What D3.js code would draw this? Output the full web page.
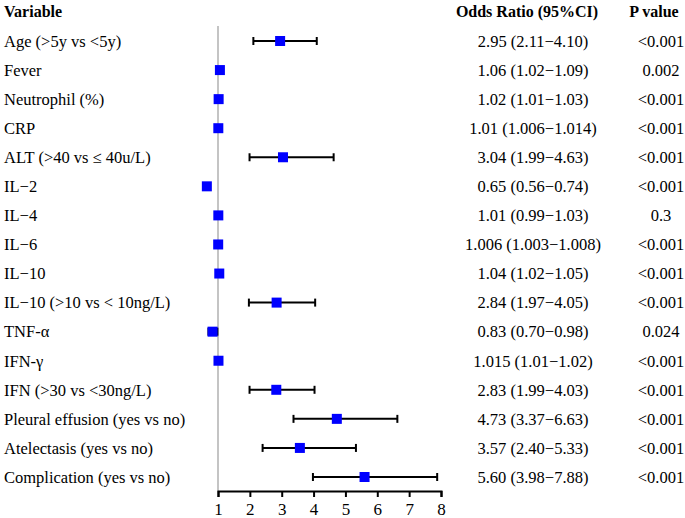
<!DOCTYPE html>
<meta charset="utf-8">
<style>
body { margin: 0; background: #fff; }
text { font-family: "Liberation Serif", "Times New Roman", serif; font-size: 16.5px; fill: #000; }
.head { font-weight: bold; font-size: 16px; }
</style>
<svg width="685" height="518"></svg>
<script src="https://d3js.org/d3.v7.min.js"></script>
<script>

var variables = ["Age (>5y vs <5y)", "Fever", "Neutrophil (%)", "CRP", "ALT (>40 vs \u2264 40u/L)",
  "IL\u22122", "IL\u22124", "IL\u22126", "IL\u221210", "IL\u221210 (>10 vs < 10ng/L)", "TNF-\u03b1",
  "IFN-\u03b3", "IFN (>30 vs <30ng/L)", "Pleural effusion (yes vs no)", "Atelectasis (yes vs no)",
  "Complication (yes vs no)"];
var oddsRatio = [2.95, 1.06, 1.02, 1.01, 3.04, 0.65, 1.01, 1.006, 1.04, 2.84, 0.83, 1.015, 2.83, 4.73, 3.57, 5.60];
var lower = [2.11, 1.02, 1.01, 1.006, 1.99, 0.56, 0.99, 1.003, 1.02, 1.97, 0.70, 1.01, 1.99, 3.37, 2.40, 3.98];
var upper = [4.10, 1.09, 1.03, 1.014, 4.63, 0.74, 1.03, 1.008, 1.05, 4.05, 0.98, 1.02, 4.03, 6.63, 5.33, 7.88];
var orText = ["2.95 (2.11\u22124.10)", "1.06 (1.02\u22121.09)", "1.02 (1.01\u22121.03)", "1.01 (1.006\u22121.014)",
  "3.04 (1.99\u22124.63)", "0.65 (0.56\u22120.74)", "1.01 (0.99\u22121.03)", "1.006 (1.003\u22121.008)",
  "1.04 (1.02\u22121.05)", "2.84 (1.97\u22124.05)", "0.83 (0.70\u22120.98)", "1.015 (1.01\u22121.02)",
  "2.83 (1.99\u22124.03)", "4.73 (3.37\u22126.63)", "3.57 (2.40\u22125.33)", "5.60 (3.98\u22127.88)"];
var pValues = ["<0.001", "0.002", "<0.001", "<0.001", "<0.001", "<0.001", "0.3", "<0.001",
  "<0.001", "<0.001", "0.024", "<0.001", "<0.001", "<0.001", "<0.001", "<0.001"];
var xTicks = [1, 2, 3, 4, 5, 6, 7, 8];

var rows = variables.map(function(v, i) {
  return { name: v, or: oddsRatio[i], lo: lower[i], hi: upper[i], txt: orText[i], p: pValues[i] };
});

var svg = d3.select("svg");

var x = d3.scaleLinear().domain([1, 8]).range([218, 441]);
var y = d3.scalePoint().domain(variables).range([41, 477]);
var axisY = 491;

// headers
svg.append("text").attr("class", "head").attr("x", 4).attr("y", 17).text("Variable");
svg.append("text").attr("class", "head").attr("x", 527).attr("y", 17).attr("text-anchor", "middle").text("Odds Ratio (95%CI)");
svg.append("text").attr("class", "head").attr("x", 654).attr("y", 17).attr("text-anchor", "middle").text("P value");

// reference line at 1
svg.append("line")
    .attr("x1", x(1)).attr("x2", x(1))
    .attr("y1", 26).attr("y2", axisY)
    .attr("stroke", "#c4c4c4").attr("stroke-width", 2);

// x axis
var gAxis = svg.append("g").attr("transform", "translate(0," + axisY + ")")
    .call(d3.axisBottom(x).tickValues(xTicks).tickFormat(d3.format("d")).tickSize(6).tickSizeOuter(6));
gAxis.select(".domain").attr("stroke", "#000").attr("stroke-width", 2);
gAxis.selectAll(".tick line").attr("stroke", "#000").attr("stroke-width", 2);
gAxis.selectAll(".tick text").attr("y", 12).attr("dy", "0.71em")
    .style("font-family", "Liberation Serif, serif").style("font-size", "17px").attr("fill", "#000");

var row = svg.selectAll(".row").data(rows).enter().append("g")
    .attr("class", "row")
    .attr("transform", function(d) { return "translate(0," + y(d.name) + ")"; });

row.append("text").attr("x", 4).attr("dy", "0.35em").text(function(d) { return d.name; });

row.append("line")
    .attr("x1", function(d) { return x(d.lo); }).attr("x2", function(d) { return x(d.hi); })
    .attr("stroke", "#000").attr("stroke-width", 2);
row.selectAll(".cap").data(function(d) { return [d.lo, d.hi]; }).enter().append("line")
    .attr("class", "cap")
    .attr("x1", function(d) { return x(d); }).attr("x2", function(d) { return x(d); })
    .attr("y1", -4).attr("y2", 4)
    .attr("stroke", "#000").attr("stroke-width", 2);

row.append("rect")
    .attr("x", function(d) { return x(d.or) - 5; }).attr("y", -5)
    .attr("width", 10).attr("height", 10)
    .attr("fill", "#0000ff");

row.append("text").attr("x", 533).attr("dy", "0.35em").attr("text-anchor", "middle").text(function(d) { return d.txt; });
row.append("text").attr("x", 661).attr("dy", "0.35em").attr("text-anchor", "middle").text(function(d) { return d.p; });

</script>
